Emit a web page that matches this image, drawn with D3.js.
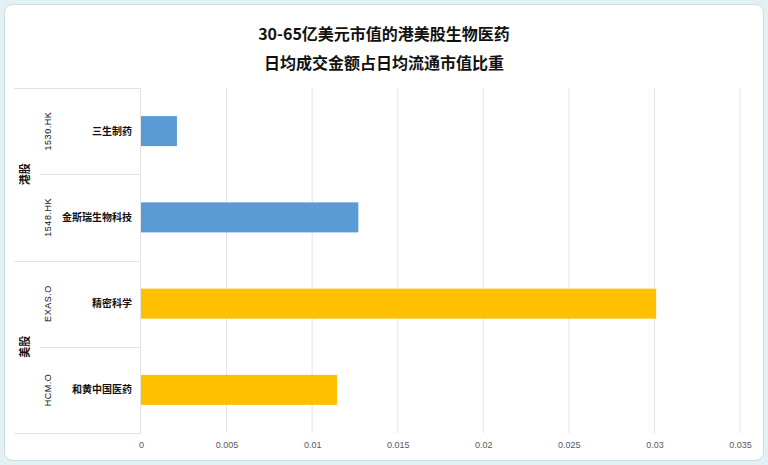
<!DOCTYPE html>
<html>
<head>
<meta charset="utf-8">
<script src="https://cdn.jsdelivr.net/npm/d3@7"></script>
<style>
  body { margin: 0; background: #e3f1f4; }
  svg { display: block; font-family: "Noto Sans CJK SC", "Liberation Sans", sans-serif; }
</style>
</head>
<body>
<div id="chart"></div>
<script>
// ---- data ----
const groups = ['港股', '港股', '美股', '美股'];
const tickers = ['1530.HK', '1548.HK', 'EXAS.O', 'HCM.O'];
const names = ['三生制药', '金斯瑞生物科技', '精密科学', '和黄中国医药'];
const values = [0.0021, 0.0127, 0.0301, 0.01145];
const xTicks = [0, 0.005, 0.01, 0.015, 0.02, 0.025, 0.03, 0.035];
const xTickLabels = ['0', '0.005', '0.01', '0.015', '0.02', '0.025', '0.03', '0.035'];
const titleLines = ['30-65亿美元市值的港美股生物医药', '日均成交金额占日均流通市值比重'];

const W = 768, H = 465;
const plot = { left: 141, right: 740, top: 88, bottom: 433 };
const labelLeft = 14;

const svg = d3.select('#chart').append('svg')
  .attr('width', W).attr('height', H);

// chart area frame
svg.append('rect')
  .attr('x', 4.5).attr('y', 4.5)
  .attr('width', W - 9).attr('height', H - 9)
  .attr('rx', 8)
  .attr('fill', '#fff')
  .attr('stroke', '#c9dde2');

// title
svg.selectAll('.title')
  .data(titleLines)
  .join('text')
  .attr('class', 'title')
  .attr('x', W / 2)
  .attr('y', (d, i) => 40 + i * 29)
  .attr('text-anchor', 'middle')
  .attr('font-size', 16)
  .attr('font-weight', 'bold')
  .attr('fill', '#111')
  .text(d => d);

// scales
const x = d3.scaleLinear().domain([0, 0.035]).range([plot.left, plot.right]);
const y = d3.scaleBand().domain(d3.range(names.length))
  .range([plot.top, plot.bottom]).paddingInner(0).paddingOuter(0);
const color = d => d === '港股' ? '#5b9bd5' : '#ffc000';

// gridlines
svg.append('g')
  .selectAll('line')
  .data(xTicks.slice(1))
  .join('line')
  .attr('x1', d => x(d)).attr('x2', d => x(d))
  .attr('y1', plot.top).attr('y2', plot.bottom)
  .attr('stroke', '#e3e3e3');

// x axis labels (no domain line)
const xAxis = svg.append('g')
  .attr('transform', `translate(0,${plot.bottom})`)
  .call(d3.axisBottom(x).tickValues(xTicks)
    .tickFormat((d, i) => xTickLabels[i]).tickSize(0).tickPadding(9));
xAxis.select('.domain').remove();
xAxis.selectAll('text')
  .attr('font-size', 9)
  .attr('fill', '#595959')
  .attr('font-family', '"Liberation Sans", sans-serif');

// category axis lines
const cat = svg.append('g').attr('stroke', '#e3e3e3').attr('fill', 'none');
cat.append('line').attr('x1', labelLeft).attr('x2', plot.left)
  .attr('y1', plot.top + 0.5).attr('y2', plot.top + 0.5);
cat.append('line').attr('x1', labelLeft).attr('x2', plot.left)
  .attr('y1', plot.bottom + 0.5).attr('y2', plot.bottom + 0.5);
cat.append('line').attr('x1', plot.left - 0.5).attr('x2', plot.left - 0.5)
  .attr('y1', plot.top).attr('y2', plot.bottom);

// separators between items (inner) and groups (full)
d3.range(1, names.length).forEach(i => {
  const yy = Math.round(y(i)) + 0.5;
  const newGroup = groups[i] !== groups[i - 1];
  cat.append('line')
    .attr('x1', newGroup ? labelLeft : 40).attr('x2', plot.left)
    .attr('y1', yy).attr('y2', yy);
});

// bars
svg.append('g')
  .selectAll('rect')
  .data(values)
  .join('rect')
  .attr('x', x(0))
  .attr('y', (d, i) => y(i) + y.bandwidth() / 2 - 15)
  .attr('width', d => x(d) - x(0))
  .attr('height', 30)
  .attr('fill', (d, i) => color(groups[i]));

// category names
svg.append('g')
  .selectAll('text')
  .data(names)
  .join('text')
  .attr('x', 132)
  .attr('y', (d, i) => y(i) + y.bandwidth() / 2)
  .attr('dy', '0.35em')
  .attr('text-anchor', 'end')
  .attr('font-size', 10)
  .attr('font-weight', 'bold')
  .attr('fill', '#111')
  .text(d => d);

// tickers (rotated)
svg.append('g')
  .selectAll('text')
  .data(tickers)
  .join('text')
  .attr('transform', (d, i) => `translate(48,${y(i) + y.bandwidth() / 2}) rotate(-90)`)
  .attr('dy', '0.35em')
  .attr('text-anchor', 'middle')
  .attr('font-size', 9)
  .attr('letter-spacing', 0.5)
  .attr('font-family', '"Liberation Sans", sans-serif')
  .attr('fill', '#111')
  .text(d => d);

// group labels (rotated)
const groupNames = Array.from(new Set(groups));
svg.append('g')
  .selectAll('text')
  .data(groupNames)
  .join('text')
  .attr('transform', g => {
    const idx = groups.map((d, i) => d === g ? i : -1).filter(i => i >= 0);
    const y0 = y(idx[0]), y1 = y(idx[idx.length - 1]) + y.bandwidth();
    return `translate(25,${(y0 + y1) / 2}) rotate(-90)`;
  })
  .attr('dy', '0.35em')
  .attr('text-anchor', 'middle')
  .attr('font-size', 11)
  .attr('font-weight', 'bold')
  .attr('fill', '#111')
  .text(d => d);
</script>
</body>
</html>
